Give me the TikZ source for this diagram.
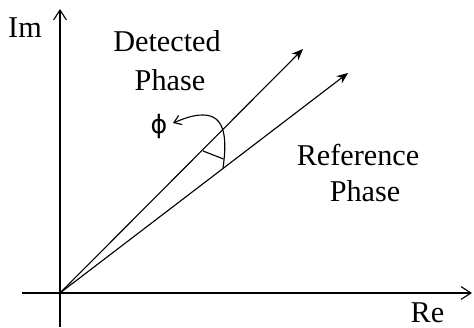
\documentclass[tikz,border=0pt]{standalone}
\usepackage{fontspec}
\setmainfont{Liberation Serif}
\newfontfamily\symfont{DejaVu Sans}
\usetikzlibrary{arrows.meta}
\begin{document}
\begin{tikzpicture}[x=0.25cm, y=0.25cm, line width=0.8pt,
  font=\fontsize{21.5}{26}\selectfont,
  axisarrow/.style={-{Straight Barb[length=7pt,width=9pt]}},
  phasorarrow/.style={-{Stealth[length=8pt,width=6.5pt,inset=2.5pt]}},
  anglearrow/.style={-{Straight Barb[length=5pt,width=7pt]}}]
%% 1 unit = 10 px of the frame  |  origin at the crossing of the axes
\useasboundingbox (-6,-3.4) rectangle (41.4,29.3);

%% ---- Axes ----
\coordinate (O) at (0,0);
\coordinate (ReStart) at (-3.8,0);
\coordinate (ReEnd) at (41.2,0);
\coordinate (ImStart) at (0,-3.4);
\coordinate (ImEnd) at (0,28.4);
\draw[axisarrow] (ReStart) -- (ReEnd);
\draw[axisarrow] (ImStart) -- (ImEnd);
\node[anchor=base] (ImLabel) at (-3.5,25.5) {Im};
\node[anchor=base] (ReLabel) at (36.75,-2.9) {Re};

%% ---- Phasors ----
\coordinate (DetTip) at (24.3,24.4);
\coordinate (RefTip) at (28.8,22.0);
\draw[phasorarrow] (O) -- (DetTip);
\draw[phasorarrow] (O) -- (RefTip);

\node[anchor=base] (DetLabel) at (10.7,24.1) {Detected};
\node[anchor=base] (DetPhase) at (11.0,20.2) {Phase};
\node[anchor=base] (RefLabel) at (29.8,12.7) {Reference};
\node[anchor=base] (RefPhase) at (30.5,9.1) {Phase};

%% ---- Angle between the phasors ----
\coordinate (ArcStart) at (16.3,12.5);
\coordinate (ArcTip) at (11.3,17.0);
\draw[anglearrow] (ArcStart) .. controls (16.7,15.3) and (16.6,17.8) .. (14.3,17.8)
  .. controls (13.2,17.8) and (12.3,17.4) .. (ArcTip);
\coordinate (TickA) at (14.3,14.2);
\coordinate (TickB) at (16.35,13.4);
\draw (TickA) -- (TickB);
\node[font=\symfont\fontsize{18}{20}\selectfont] (PhiLabel) at (9.9,16.6) {ϕ};
\end{tikzpicture}
\end{document}
